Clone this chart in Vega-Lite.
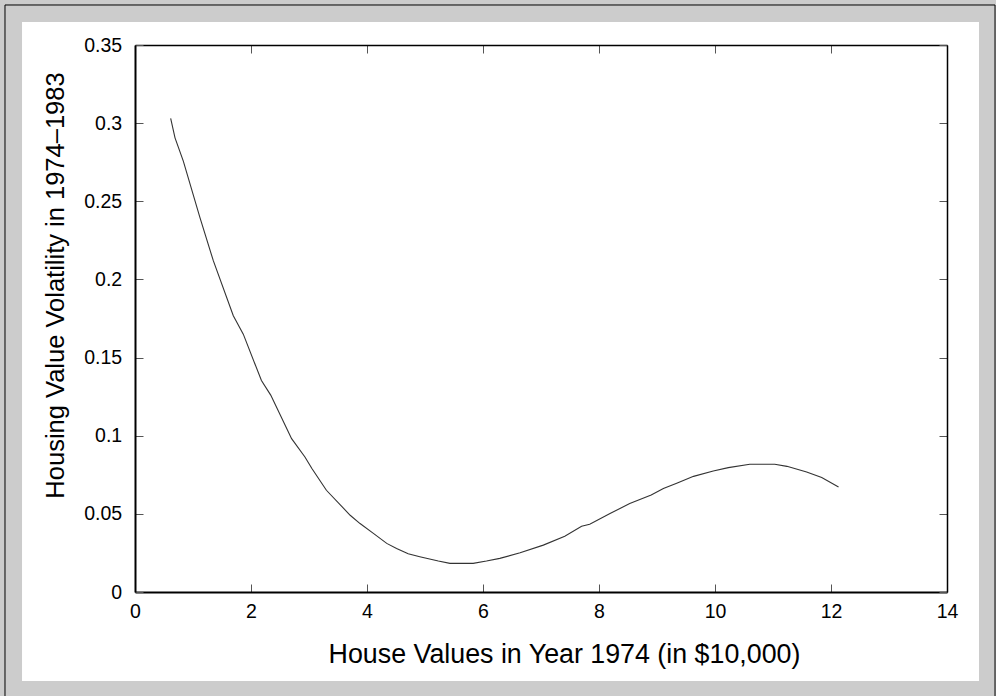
{
  "$schema": "https://vega.github.io/schema/vega-lite/v6.json",
  "width": 812,
  "height": 547,
  "autosize": {"type": "none"},
  "padding": {"left": 135, "top": 45, "right": 49, "bottom": 104},
  "background": "#cccccc",
  "config": {"view": {"stroke": null}, "font": "Liberation Sans"},
  "datasets": {
    "curve": [
      {"house_value": 0.615, "volatility": 0.303},
      {"house_value": 0.69, "volatility": 0.2906},
      {"house_value": 0.833, "volatility": 0.2757},
      {"house_value": 1.12, "volatility": 0.2396},
      {"house_value": 1.35, "volatility": 0.212},
      {"house_value": 1.695, "volatility": 0.1768},
      {"house_value": 1.867, "volatility": 0.165},
      {"house_value": 2.18, "volatility": 0.1353},
      {"house_value": 2.34, "volatility": 0.126},
      {"house_value": 2.7, "volatility": 0.0981},
      {"house_value": 2.93, "volatility": 0.0864},
      {"house_value": 3.05, "volatility": 0.079},
      {"house_value": 3.3, "volatility": 0.0651},
      {"house_value": 3.71, "volatility": 0.0491},
      {"house_value": 3.88, "volatility": 0.0438},
      {"house_value": 4.11, "volatility": 0.0375},
      {"house_value": 4.34, "volatility": 0.0311},
      {"house_value": 4.51, "volatility": 0.0279},
      {"house_value": 4.71, "volatility": 0.0245},
      {"house_value": 4.91, "volatility": 0.0226},
      {"house_value": 5.23, "volatility": 0.0198},
      {"house_value": 5.43, "volatility": 0.0183},
      {"house_value": 5.83, "volatility": 0.0183},
      {"house_value": 6.06, "volatility": 0.0198},
      {"house_value": 6.29, "volatility": 0.0215},
      {"house_value": 6.64, "volatility": 0.0251},
      {"house_value": 7.04, "volatility": 0.03},
      {"house_value": 7.41, "volatility": 0.0357},
      {"house_value": 7.7, "volatility": 0.0421},
      {"house_value": 7.84, "volatility": 0.0434},
      {"house_value": 8.19, "volatility": 0.0502},
      {"house_value": 8.53, "volatility": 0.0566},
      {"house_value": 8.9, "volatility": 0.062},
      {"house_value": 9.11, "volatility": 0.0662},
      {"house_value": 9.34, "volatility": 0.0696},
      {"house_value": 9.63, "volatility": 0.074},
      {"house_value": 9.97, "volatility": 0.0774},
      {"house_value": 10.23, "volatility": 0.0796},
      {"house_value": 10.6, "volatility": 0.0817},
      {"house_value": 11.03, "volatility": 0.0817},
      {"house_value": 11.24, "volatility": 0.0804},
      {"house_value": 11.58, "volatility": 0.0768},
      {"house_value": 11.84, "volatility": 0.0732},
      {"house_value": 12.13, "volatility": 0.0672}
    ]
  },
  "layer": [
    {
      "data": {"values": [{}]},
      "mark": {"type": "rect", "fill": "white", "strokeWidth": 0, "clip": false},
      "encoding": {
        "x": {"datum": -1.948, "type": "quantitative", "scale": {"domain": [0, 14], "nice": false, "zero": false}, "axis": null},
        "x2": {"datum": 14.552},
        "y": {"datum": 0.3647, "type": "quantitative", "scale": {"domain": [0, 0.35], "nice": false, "zero": false}, "axis": null},
        "y2": {"datum": -0.0569}
      }
    },
    {
      "data": {"values": [{}]},
      "mark": {"type": "rect", "fill": null, "stroke": "black", "strokeWidth": 1, "clip": false},
      "encoding": {
        "x": {"datum": -2.2414, "type": "quantitative", "scale": {"domain": [0, 14], "nice": false, "zero": false},
          "axis": {"orient": "top", "values": [0, 2, 4, 6, 8, 10, 12, 14], "labels": false, "title": null, "grid": false,
            "tickSize": -8, "tickColor": "#555555", "tickWidth": 1, "domainColor": "black", "domainWidth": 1.5, "zindex": 1}},
        "x2": {"datum": 14.828},
        "y": {"datum": 0.3756, "type": "quantitative", "scale": {"domain": [0, 0.35], "nice": false, "zero": false},
          "axis": {"orient": "right", "values": [0, 0.05, 0.1, 0.15, 0.2, 0.25, 0.3, 0.35], "labels": false, "title": null, "grid": false,
            "tickSize": -8, "tickColor": "#555555", "tickWidth": 1, "domainColor": "black", "domainWidth": 1.5, "zindex": 1}},
        "y2": {"datum": -0.12}
      }
    },
    {
      "data": {"name": "curve"},
      "mark": {"type": "line", "color": "#333333", "strokeWidth": 1.1, "clip": false},
      "encoding": {
        "x": {"field": "house_value", "type": "quantitative", "scale": {"domain": [0, 14], "nice": false, "zero": false},
          "axis": {"orient": "bottom", "values": [0, 2, 4, 6, 8, 10, 12, 14], "grid": false,
            "tickSize": -8, "tickColor": "#555555", "tickWidth": 1, "domainColor": "black", "domainWidth": 2,
            "labelFont": "Liberation Sans", "labelFontSize": 19.5, "labelColor": "black", "labelPadding": 33,
            "labelBaseline": "alphabetic", "labelFlush": false, "labelOverlap": false,
            "title": "House Values in Year 1974 (in $10,000)", "titleFont": "Liberation Sans", "titleFontSize": 26.8,
            "titleFontWeight": "normal", "titleColor": "black", "titleX": 429, "titleY": 70,
            "titleBaseline": "alphabetic", "titleAlign": "center", "zindex": 1}},
        "y": {"field": "volatility", "type": "quantitative", "scale": {"domain": [0, 0.35], "nice": false, "zero": false},
          "axis": {"orient": "left", "values": [0, 0.05, 0.1, 0.15, 0.2, 0.25, 0.3, 0.35], "format": "~g", "grid": false,
            "tickSize": -8, "tickColor": "#555555", "tickWidth": 1, "domainColor": "black", "domainWidth": 2,
            "labelFont": "Liberation Sans", "labelFontSize": 19.5, "labelColor": "black", "labelPadding": 21.3,
            "labelBaseline": "middle", "labelFlush": false, "labelOverlap": false,
            "title": "Housing Value Volatility in 1974–1983", "titleFont": "Liberation Sans", "titleFontSize": 25.5,
            "titleFontWeight": "normal", "titleColor": "black", "titleX": -72, "titleY": 240, "titleAngle": 270,
            "titleBaseline": "alphabetic", "titleAlign": "center", "zindex": 1}}
      }
    }
  ],
  "resolve": {"axis": {"x": "independent", "y": "independent"}}
}
